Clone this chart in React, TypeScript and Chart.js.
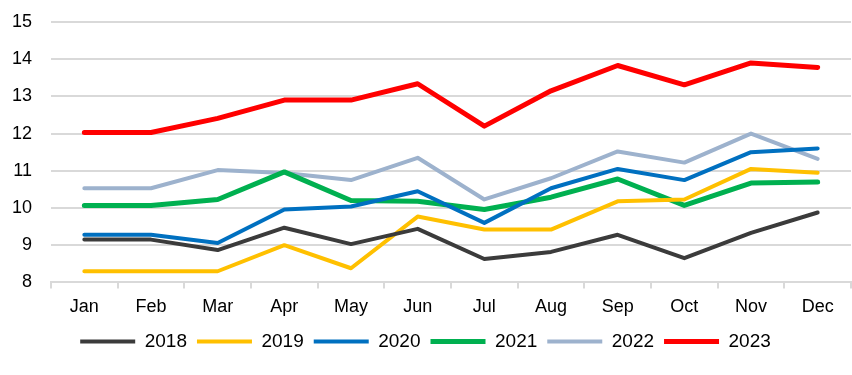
import React, { useEffect, useRef } from "react";
import { Chart, registerables } from "chart.js";

Chart.register(...registerables);

const months = ["Jan", "Feb", "Mar", "Apr", "May", "Jun", "Jul", "Aug", "Sep", "Oct", "Nov", "Dec"];
const years = ["2018", "2019", "2020", "2021", "2022", "2023"];

const s2018 = [9.15, 9.15, 8.87, 9.47, 9.03, 9.44, 8.63, 8.82, 9.28, 8.65, 9.33, 9.88];
const s2019 = [8.3, 8.3, 8.3, 9.0, 8.38, 9.77, 9.42, 9.42, 10.18, 10.23, 11.05, 10.95];
const s2020 = [9.28, 9.28, 9.06, 9.96, 10.04, 10.45, 9.6, 10.53, 11.05, 10.75, 11.5, 11.6];
const s2021 = [10.07, 10.07, 10.23, 10.97, 10.2, 10.18, 9.96, 10.29, 10.78, 10.07, 10.67, 10.7];
const s2022 = [10.53, 10.53, 11.02, 10.94, 10.75, 11.35, 10.23, 10.8, 11.52, 11.22, 12.0, 11.32];
const s2023 = [12.03, 12.03, 12.41, 12.9, 12.9, 13.34, 12.2, 13.15, 13.83, 13.31, 13.9, 13.78];

const seriesValues = [s2018, s2019, s2020, s2021, s2022, s2023];
const colors = ["#3b3b3b", "#ffc000", "#0070c0", "#00b050", "#9db2cd", "#ff0000"];
const widths = [4, 4, 4, 5, 4, 5];

const yMin = 8;
const yMax = 15;
const yStep = 1;

const FONT = "'Liberation Sans', Arial, sans-serif";

export default function App() {
  const ref = useRef<HTMLCanvasElement | null>(null);

  useEffect(() => {
    document.body.style.margin = "0";
    const canvas = ref.current;
    if (!canvas) return;
    const chart = new Chart(canvas, {
      type: "line",
      data: {
        labels: months,
        datasets: years.map((y, i) => ({
          label: y,
          data: seriesValues[i],
          borderColor: colors[i],
          backgroundColor: colors[i],
          borderWidth: widths[i],
          borderCapStyle: "round" as const,
          borderJoinStyle: "round" as const,
          pointRadius: 0,
          pointHoverRadius: 0,
          tension: 0,
          fill: false,
        })),
      },
      options: {
        responsive: false,
        animation: false,
        layout: { padding: { top: 22, right: 1, left: 0, bottom: 14 } },
        plugins: {
          tooltip: { enabled: false },
          legend: {
            position: "bottom",
            labels: {
              usePointStyle: true,
              pointStyle: "line",
              pointStyleWidth: 55,
              boxHeight: 19,
              padding: 10,
              color: "#000",
              font: { family: FONT, size: 19 },
            },
          },
        },
        scales: {
          x: {
            offset: true,
            grid: {
              offset: true,
              drawOnChartArea: false,
              color: "#d9d9d9",
              lineWidth: 2,
              tickLength: 6,
            },
            border: { display: true, color: "#d9d9d9", width: 2 },
            ticks: {
              color: "#000",
              font: { family: FONT, size: 18 },
              padding: 8,
              maxRotation: 0,
            },
            afterFit: (scale: any) => {
              scale.height = scale.height - 4;
            },
          },
          y: {
            min: yMin,
            max: yMax,
            ticks: {
              stepSize: yStep,
              color: "#000",
              font: { family: FONT, size: 18 },
              padding: 19,
            },
            grid: { color: "#d9d9d9", lineWidth: 2, drawTicks: false },
            border: { display: false },
            afterFit: (scale: any) => {
              scale.width = 51;
              scale.paddingTop = 0;
              scale.paddingBottom = 0;
            },
          },
        },
      },
    });
    return () => chart.destroy();
  }, []);

  return (
    <div style={{ width: 852, height: 375 }}>
      <canvas ref={ref} width={852} height={375} />
    </div>
  );
}
